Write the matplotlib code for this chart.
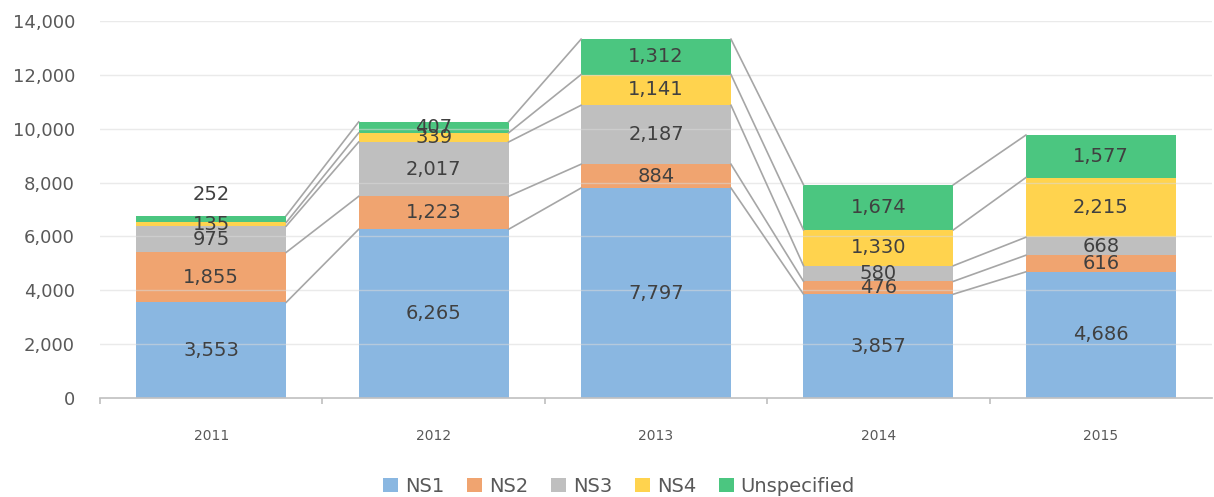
import matplotlib.pyplot as plt
import numpy as np
from matplotlib.ticker import FuncFormatter, FixedLocator

# stacked bars per year, with connector lines between segment tops
years = ["2011", "2012", "2013", "2014", "2015"]
ns1 = [3553, 6265, 7797, 3857, 4686]
ns2 = [1855, 1223, 884, 476, 616]
ns3 = [975, 2017, 2187, 580, 668]
ns4 = [135, 339, 1141, 1330, 2215]
unspecified = [252, 407, 1312, 1674, 1577]

series_names = ["NS1", "NS2", "NS3", "NS4", "Unspecified"]
series = [ns1, ns2, ns3, ns4, unspecified]
colors = ["#8AB7E1", "#F0A470", "#BFBFBF", "#FFD34E", "#4BC680"]

fig = plt.figure(figsize=(12.14, 4.97), dpi=100)
ax = fig.add_axes((0.0824, 0.199, 0.916, 0.759))

x = np.arange(len(years))
width = 0.674
bottom = np.zeros(len(years))
tops = []
for name, vals, col in zip(series_names, series, colors):
    vals = np.array(vals, dtype=float)
    ax.bar(x, vals, width, bottom=bottom, color=col, label=name, zorder=2)
    for i, v in enumerate(vals):
        y = bottom[i] + v / 2
        if name == "Unspecified" and i == 0:
            y = bottom[i] + v + 800  # label pushed above the small top segment
        ax.text(x[i], y, f"{int(v):,}", ha="center", va="center",
                fontsize=14, color="#404040", zorder=4)
    bottom = bottom + vals
    tops.append(bottom.copy())

# connector lines between bars
for t in tops:
    for i in range(len(years) - 1):
        ax.plot([x[i] + width / 2, x[i + 1] - width / 2], [t[i], t[i + 1]],
                color="#A6A6A6", lw=1.2, zorder=3)

ax.set_ylim(0, 14000)
ax.set_xlim(-0.5, len(years) - 0.5)
ax.set_yticks(np.arange(0, 14001, 2000))
ax.yaxis.set_major_formatter(FuncFormatter(lambda v, p: f"{int(v):,}"))
ax.grid(axis="y", color="#D9D9D9", lw=1, zorder=2.5, alpha=0.55)
ax.set_axisbelow(False)

for s in ["top", "right", "left"]:
    ax.spines[s].set_visible(False)
ax.spines["bottom"].set_color("#BFBFBF")
ax.spines["bottom"].set_linewidth(1.2)

ax.tick_params(axis="y", length=0, labelsize=13, labelcolor="#595959", pad=18)
ax.set_xticks(x)
ax.set_xticklabels(years)
ax.tick_params(axis="x", length=0, labelsize=10, labelcolor="#595959", pad=22)
ax.xaxis.set_minor_locator(FixedLocator(np.arange(-0.5, len(years) - 0.5, 1.0)))
ax.tick_params(axis="x", which="minor", length=4, color="#BFBFBF", width=1.2)

handles, labels = ax.get_legend_handles_labels()
fig.legend(handles, labels, loc="center", bbox_to_anchor=(0.51, 0.022),
           ncol=5, frameon=False, fontsize=14, labelcolor="#595959",
           handlelength=0.75, handleheight=0.75, handletextpad=0.35,
           columnspacing=1.2)

fig.savefig("out.png", dpi=100)
